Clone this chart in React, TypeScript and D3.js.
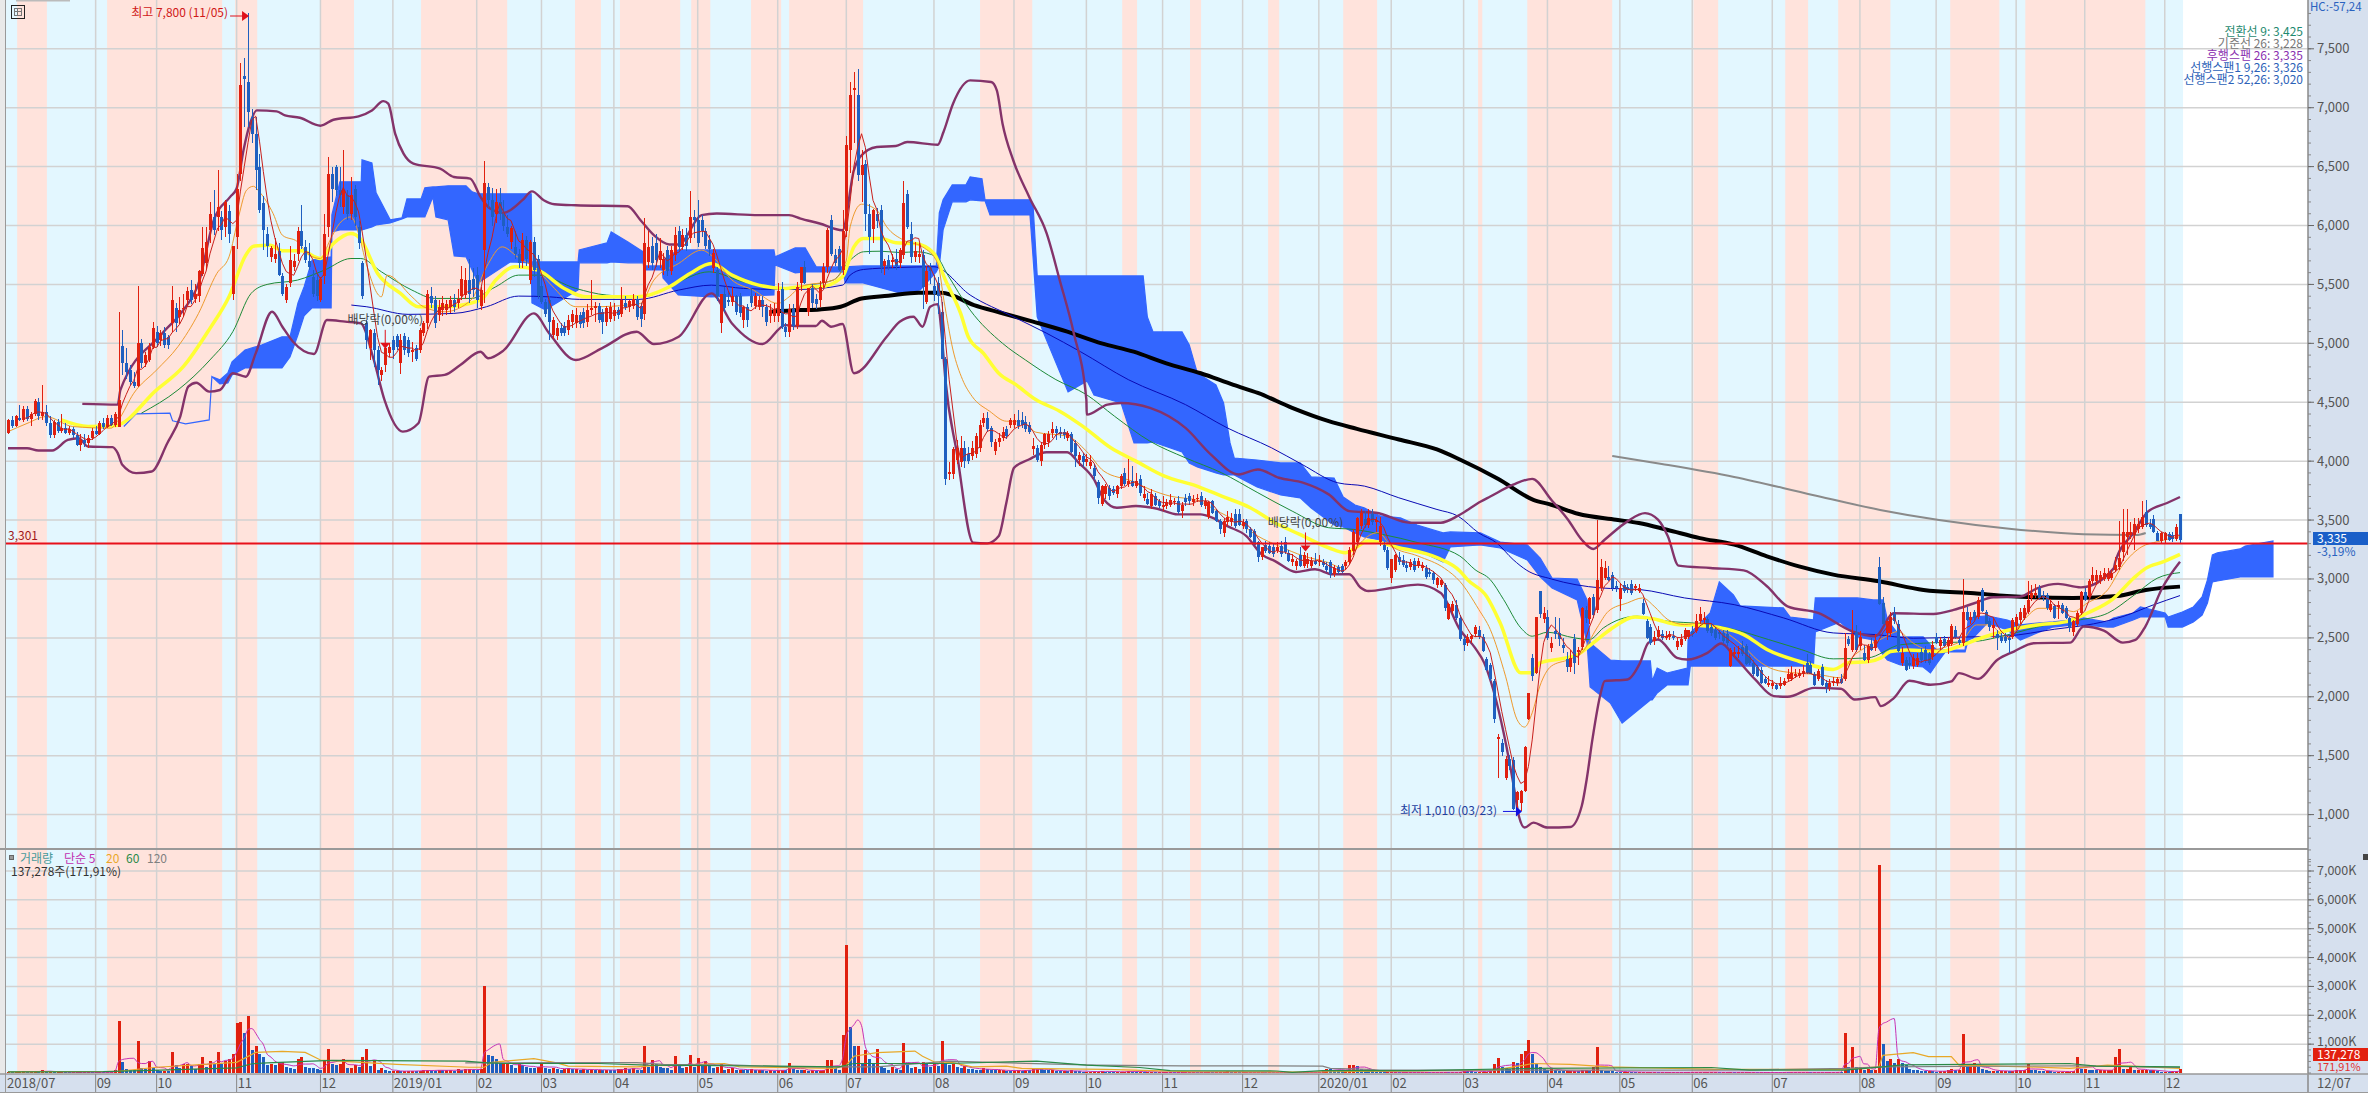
import React from "react";
import * as d3 from "d3";

const W = 2368, H = 1093;

// candle rows: [open, high, low, close, volume in K shares], one array per chart month
const m1807 = [[4240,4360,4230,4350,40],[4350,4380,4280,4300,30],[4300,4390,4290,4380,30],[4370,4480,4340,4350,50],[4350,4470,4330,4440,60],[4440,4470,4340,4360,40],[4360,4420,4300,4400,40],[4400,4530,4380,4510,70],[4500,4540,4350,4380,50],[4380,4650,4350,4420,90],[4420,4480,4300,4320,40],[4320,4380,4200,4220,60],[4220,4350,4200,4330,30],[4330,4360,4240,4260,30],[4260,4400,4240,4280,40],[4280,4320,4230,4240,30],[4240,4300,4220,4270,20],[4270,4290,4200,4220,20],[4220,4250,4130,4140,30],[4140,4230,4090,4180,30],[4180,4230,4120,4150,30],[4150,4220,4110,4200,30],[4200,4280,4180,4260,20]];
const m1809 = [[4260,4300,4220,4230,20],[4230,4340,4220,4320,30],[4320,4370,4270,4290,20],[4290,4390,4280,4370,30],[4370,4390,4300,4310,30],[4310,4420,4290,4400,90],[4290,5270,4290,4520,1800],[4980,5110,4730,4830,380],[4830,4960,4700,4760,150],[4770,4820,4650,4670,120],[4670,4760,4620,4640,100],[4640,5490,4630,5000,1110],[5000,5040,4790,4830,170],[4830,4930,4800,4900,130],[4860,5000,4840,4970,430],[4970,5180,4950,5130,180]];
const m1810 = [[5100,5150,4970,5000,120],[5030,5110,4980,5090,80],[5090,5140,4960,4990,80],[5050,5070,4950,4990,60],[5170,5490,5100,5370,715],[5300,5340,5100,5170,260],[5220,5390,5160,5280,180],[5290,5420,5220,5300,320],[5370,5480,5320,5440,320],[5450,5540,5330,5370,250],[5380,5500,5340,5420,150],[5400,5620,5350,5610,320],[5590,5990,5570,5810,545],[5680,5990,5620,5860,200],[5960,6200,5850,6100,430],[6070,6300,5920,5960,300],[6070,6470,5950,6160,715],[6070,6120,5880,5960,300],[5990,6220,5900,6200,430],[6120,6170,5850,5930,490],[5420,5830,5370,5830,660]];
const m1811 = [[5900,6440,5800,6310,1740],[6440,7380,6380,7190,1760],[7270,7420,6840,7240,1400],[7220,7800,6840,6960,1990],[6920,6990,6700,6780,810],[6780,6920,6300,6470,940],[6500,6610,6110,6130,660],[6190,6250,5790,5960,570],[5930,5990,5730,5830,290],[5730,5830,5690,5810,300],[5720,5890,5680,5760,260],[5780,5850,5570,5580,340],[5570,5600,5400,5420,380],[5370,5500,5340,5480,200],[5510,5830,5480,5710,180],[5650,5760,5610,5700,130],[5760,5990,5700,5950,470],[5950,6170,5800,5830,570],[5820,5880,5680,5710,200],[5700,5850,5620,5650,180],[5560,5620,5390,5420,170],[5540,5600,5360,5400,130]];
const m1812 = [[5370,5560,5350,5550,120],[5570,6100,5500,5930,430],[5990,6580,5900,6440,840],[6440,6500,6200,6310,300],[6500,6510,6250,6300,260],[6300,6500,6160,6260,320],[6160,6640,6100,6300,490],[6260,6300,6050,6100,180],[6100,6410,6050,6260,180],[6310,6340,6000,6070,260],[5990,6040,5800,5850,200],[5680,5700,5380,5400,545],[5170,5200,4950,5030,840],[4960,5120,4860,5110,250],[5090,5120,4800,4940,430],[4940,4980,4650,4770,100],[4730,4800,4680,4770,180],[4820,4960,4760,4960,90],[4920,5000,4880,4970,60]];
const m1901 = [[5030,5060,4870,4940,70],[5060,5080,4940,4970,70],[4830,5080,4740,5030,60],[5060,5090,4900,4940,60],[5030,5050,4880,4920,70],[4930,5010,4840,4940,80],[4960,4990,4850,4870,70],[4940,5130,4920,5110,80],[5090,5190,5060,5170,90],[5170,5450,5120,5420,100],[5400,5480,5300,5340,90],[5370,5400,5130,5170,80],[5240,5370,5190,5310,110],[5280,5400,5230,5340,90],[5280,5370,5240,5330,90],[5310,5400,5260,5370,100],[5370,5420,5270,5310,80],[5340,5460,5300,5380,130],[5400,5660,5370,5550,100],[5410,5640,5380,5540,130],[5540,5720,5340,5420,130],[5550,5640,5390,5450,120]];
const m1902 = [[5580,5650,5300,5370,110],[5320,5480,5280,5450,130],[5790,6550,5340,6360,3030],[6330,6360,6150,6220,610],[6220,6320,6000,6070,600],[6100,6310,6020,6200,480],[6200,6320,6050,6100,330],[6100,6220,5950,6000,330],[5990,6090,5900,5930,330],[5860,6000,5800,5980,260],[5820,5950,5720,5760,190],[5760,5800,5640,5680,320],[5700,5940,5640,5880,260],[5880,5910,5660,5720,200],[5540,5880,5500,5860,190],[5860,5900,5560,5620,170],[5720,5750,5380,5400,200]];
const m1903 = [[5490,5560,5330,5350,320],[5350,5380,5220,5250,190],[5370,5400,5030,5180,150],[5070,5220,5040,5200,180],[5060,5170,5030,5130,150],[5130,5170,5060,5090,120],[5150,5180,5060,5090,150],[5110,5240,5070,5200,170],[5180,5280,5130,5250,130],[5170,5300,5130,5240,130],[5240,5270,5130,5160,100],[5270,5300,5130,5170,140],[5180,5330,5140,5280,120],[5280,5540,5240,5300,120],[5300,5350,5180,5320,100],[5320,5340,5170,5200,110],[5270,5290,5080,5180,100],[5180,5320,5150,5300,110],[5210,5350,5180,5310,100]];
const m1904 = [[5230,5340,5190,5280,90],[5280,5310,5210,5240,130],[5250,5480,5220,5370,140],[5340,5400,5280,5310,180],[5310,5370,5270,5360,130],[5320,5420,5290,5380,170],[5380,5400,5200,5220,120],[5320,5340,5140,5210,90],[5250,6060,5200,5850,950],[5690,5950,5640,5820,220],[5830,5900,5620,5680,460],[5850,5930,5650,5710,300],[5710,5890,5640,5780,200],[5620,5770,5580,5720,170],[5790,5830,5570,5610,160],[5610,5830,5580,5790,120],[5750,5990,5700,5920,580],[5950,6000,5780,5820,230],[5820,5970,5790,5920,170],[5920,5980,5780,5830,200],[5890,6290,5850,6070,610],[6070,6130,5890,6050,200]];
const m1905 = [[6050,6220,5820,5850,510],[6050,6090,5900,5950,260],[5950,5980,5800,5830,400],[5880,5920,5740,5800,240],[5640,5800,5600,5770,180],[5620,5650,5360,5400,200],[5170,5420,5090,5420,300],[5420,5480,5270,5300,120],[5370,5440,5320,5350,140],[5350,5480,5320,5400,170],[5400,5410,5240,5270,110],[5400,5430,5220,5260,120],[5200,5320,5130,5310,100],[5310,5330,5140,5200,90],[5400,5470,5310,5340,130],[5320,5430,5290,5400,90],[5310,5400,5280,5370,110],[5370,5400,5220,5310,100],[5310,5330,5150,5180,80],[5230,5330,5170,5280,90],[5230,5340,5180,5290,80]];
const m1906 = [[5230,5510,5180,5440,90],[5460,5520,5120,5140,120],[5140,5170,5050,5100,90],[5100,5330,5050,5290,330],[5290,5330,5110,5150,130],[5150,5520,5120,5480,110],[5510,5650,5440,5650,90],[5650,5700,5500,5510,100],[5270,5470,5230,5470,80],[5470,5500,5300,5340,90],[5380,5420,5290,5330,70],[5370,5530,5310,5480,80],[5510,5680,5470,5650,90],[5650,5980,5600,5960,440],[6050,6090,5740,5760,440],[5750,5800,5660,5680,170],[5800,5830,5610,5620,120],[5620,6130,5580,5950,1300]];
const m1907 = [[5950,6760,5900,6680,4420],[6640,7220,6450,7105,1600],[7150,7300,6700,7170,920],[7105,7330,6380,6430,950],[6430,6640,6200,6510,300],[6520,6560,5950,6100,780],[6100,6180,5760,5900,500],[5970,6140,5850,6130,300],[6100,6150,5980,6040,820],[6130,6170,5600,5650,210],[5660,5720,5580,5700,160],[5710,5750,5620,5650,110],[5690,5760,5640,5710,200],[5720,5800,5620,5660,150],[5680,5810,5640,5790,120],[5750,6380,5720,6190,1045],[6270,6300,5970,5990,300],[5930,6030,5680,5730,160],[5730,5860,5690,5780,200],[5730,5850,5680,5760,150],[5750,5790,5290,5480,390],[5350,5660,5330,5610,300],[5650,5680,5500,5610,200]];
const m1908 = [[5490,5580,5360,5420,300],[5510,5560,5250,5400,250],[5270,5350,4870,4870,1125],[4870,4880,3800,3850,350],[3890,3990,3840,3910,280],[3890,4120,3850,4100,300],[4010,4180,3980,4110,200],[3990,4210,3950,4110,180],[4110,4170,3940,4000,250],[4060,4120,3980,4000,150],[4040,4170,4010,4110,130],[4060,4240,4030,4210,120],[4110,4350,4080,4310,100],[4320,4410,4290,4370,180],[4370,4420,4250,4270,130],[4280,4300,4120,4160,100],[4090,4190,4050,4160,90],[4160,4240,4120,4200,100],[4200,4290,4170,4250,100],[4270,4300,4190,4210,80],[4310,4370,4280,4350,70]];
const m1909 = [[4310,4400,4280,4350,80],[4350,4430,4270,4300,90],[4350,4420,4280,4310,80],[4330,4380,4250,4270,110],[4310,4330,4230,4250,100],[4100,4200,4050,4130,130],[4110,4140,3990,4010,180],[4000,4150,3960,4140,130],[4140,4240,4100,4230,100],[4160,4260,4120,4230,90],[4240,4330,4200,4270,90],[4270,4300,4180,4240,80],[4250,4290,4200,4230,70],[4250,4270,4190,4220,70],[4200,4260,4170,4240,60],[4230,4250,4070,4080,90],[4150,4180,3950,4040,70],[4010,4080,3960,4050,60],[4040,4070,3950,3990,50]];
const m1910 = [[3990,4060,3960,4020,50],[3960,4050,3930,3990,50],[3940,3980,3840,3870,50],[3820,3840,3640,3690,50],[3640,3800,3620,3790,80],[3720,3810,3680,3790,50],[3770,3800,3670,3700,40],[3760,3790,3710,3730,30],[3720,3800,3690,3790,40],[3790,3890,3760,3870,50],[3900,3940,3790,3810,50],[3810,4020,3780,3830,60],[3830,3960,3780,3790,50],[3790,3900,3770,3830,40],[3850,3880,3700,3730,50],[3690,3790,3660,3720,40],[3680,3730,3630,3640,40],[3620,3760,3590,3720,40],[3700,3730,3620,3630,30],[3660,3680,3600,3620,30]];
const m1911 = [[3610,3700,3580,3630,30],[3620,3680,3590,3650,30],[3630,3720,3610,3670,30],[3650,3690,3630,3660,25],[3660,3700,3550,3570,30],[3580,3650,3520,3630,30],[3690,3720,3620,3650,30],[3700,3730,3630,3660,30],[3650,3710,3620,3680,30],[3680,3720,3650,3690,25],[3700,3740,3610,3630,30],[3620,3690,3590,3660,30],[3530,3660,3510,3650,40],[3660,3670,3550,3560,30],[3580,3590,3480,3490,30],[3490,3510,3380,3420,30],[3390,3520,3360,3490,30],[3480,3580,3450,3530,60],[3480,3560,3450,3520,30],[3550,3590,3430,3450,30],[3550,3590,3450,3460,25]];
const m1912 = [[3450,3510,3420,3480,25],[3490,3510,3390,3420,25],[3420,3440,3350,3360,25],[3410,3420,3290,3290,25],[3310,3320,3140,3190,30],[3190,3270,3160,3270,30],[3290,3320,3220,3240,25],[3280,3310,3210,3220,25],[3270,3300,3190,3210,20],[3240,3310,3220,3270,20],[3280,3320,3190,3210,20],[3310,3360,3210,3230,20],[3220,3250,3140,3150,20],[3140,3210,3110,3170,20],[3110,3170,3080,3150,20],[3200,3270,3100,3110,20],[3110,3230,3090,3200,20],[3130,3220,3090,3170,20],[3110,3190,3090,3150,20],[3150,3220,3120,3130,20]];
const m2001 = [[3140,3200,3110,3150,40],[3140,3170,3100,3120,60],[3110,3140,3060,3080,150],[3140,3160,3010,3040,130],[3040,3120,3020,3090,120],[3100,3120,3040,3060,100],[3110,3130,3050,3060,80],[3110,3160,3080,3140,90],[3140,3270,3120,3250,270],[3240,3420,3200,3400,280],[3310,3530,3290,3520,250],[3450,3590,3420,3560,130],[3510,3580,3430,3460,100],[3460,3590,3430,3520,70],[3550,3590,3460,3480,60],[3480,3530,3400,3500,50],[3310,3530,3280,3450,40],[3290,3310,3230,3250,30],[3250,3270,3080,3090,30]];
const m2002 = [[3010,3170,2970,3170,30],[3080,3210,3060,3200,30],[3190,3230,3120,3140,25],[3160,3200,3100,3120,25],[3120,3150,3060,3090,25],[3100,3170,3080,3140,25],[3150,3180,3060,3080,25],[3110,3180,3090,3150,25],[3090,3140,3070,3120,25],[3090,3120,3000,3020,25],[3060,3090,3020,3040,20],[3050,3070,2960,2990,25],[2950,3020,2920,3010,25],[2950,3000,2930,2990,30],[2950,2970,2730,2750,30],[2660,2800,2650,2790,25],[2730,2810,2700,2790,25],[2780,2820,2650,2670,25],[2670,2690,2470,2490,40]];
const m2003 = [[2490,2510,2390,2440,100],[2460,2530,2430,2510,90],[2490,2530,2460,2520,60],[2530,2610,2510,2590,40],[2570,2600,2490,2510,40],[2510,2530,2380,2390,40],[2320,2340,2220,2230,50],[2270,2290,2130,2150,100],[2130,2150,1780,1810,300],[1640,1680,1310,1660,510],[1610,1640,1500,1530,200],[1310,1500,1290,1470,190],[1470,1510,1380,1410,150],[1460,1490,1040,1050,390],[1120,1200,1010,1190,340],[1100,1210,1030,1200,650],[1200,1580,1190,1570,750],[1810,2030,1800,2030,1160],[2330,2360,2130,2180,650],[2200,2680,2190,2680,300],[2900,2900,2670,2700,200],[2660,2760,2630,2710,150]];
const m2004 = [[2680,2740,2480,2500,120],[2410,2510,2380,2460,130],[2560,2680,2490,2530,100],[2540,2670,2430,2490,80],[2440,2500,2370,2410,60],[2320,2380,2210,2250,60],[2250,2400,2210,2330,60],[2490,2530,2190,2290,70],[2380,2420,2270,2400,60],[2420,2760,2400,2750,90],[2740,2770,2630,2670,100],[2660,2850,2620,2840,80],[2850,2870,2670,2690,200],[2740,3500,2710,2990,890],[2920,3170,2900,3100,110],[3010,3150,2990,3090,80],[3020,3110,2980,2990,70],[3030,3060,2900,2920,60],[2940,2980,2890,2920,50]];
const m2005 = [[2830,2960,2730,2920,40],[2950,2980,2880,2900,40],[2930,2960,2880,2910,40],[2960,2990,2860,2880,35],[2920,2960,2900,2940,30],[2900,2960,2880,2920,30],[2800,2830,2690,2700,30],[2640,2660,2490,2500,30],[2590,2620,2440,2460,30],[2470,2560,2440,2510,30],[2510,2600,2490,2570,25],[2530,2570,2480,2500,25],[2500,2560,2480,2520,25],[2510,2560,2480,2530,25],[2520,2560,2480,2500,25],[2420,2500,2400,2470,25],[2440,2530,2420,2490,25],[2490,2580,2470,2570,25],[2510,2570,2490,2570,30]];
const m2006 = [[2560,2600,2510,2530,30],[2560,2700,2540,2640,30],[2640,2760,2620,2700,30],[2650,2720,2630,2670,30],[2660,2680,2540,2560,30],[2590,2620,2520,2540,30],[2570,2590,2480,2500,30],[2550,2570,2490,2530,25],[2540,2570,2450,2470,25],[2530,2570,2430,2460,25],[2260,2410,2250,2400,40],[2360,2420,2330,2380,25],[2360,2430,2330,2380,25],[2420,2470,2350,2360,25],[2430,2450,2270,2280,25],[2340,2360,2270,2290,25],[2290,2310,2180,2190,25],[2250,2270,2170,2180,20],[2230,2250,2110,2120,20],[2150,2170,2110,2120,20],[2100,2180,2080,2120,20]];
const m2007 = [[2090,2140,2070,2120,20],[2100,2120,2060,2070,20],[2090,2170,2070,2120,20],[2100,2160,2090,2130,30],[2150,2240,2130,2190,25],[2150,2260,2130,2200,25],[2180,2240,2160,2190,25],[2180,2240,2160,2200,25],[2190,2270,2170,2220,25],[2290,2360,2190,2200,30],[2270,2300,2190,2190,25],[2190,2210,2090,2100,25],[2150,2240,2130,2220,25],[2250,2280,2090,2100,25],[2120,2140,2030,2080,25],[2080,2150,2050,2120,25],[2120,2170,2090,2130,25],[2120,2170,2090,2150,30],[2150,2190,2110,2120,25],[2150,2540,2130,2410,1400],[2490,2520,2430,2450,200],[2400,2740,2380,2530,890],[2550,2610,2380,2400,200]];
const m2008 = [[2430,2560,2400,2510,200],[2370,2440,2300,2310,100],[2310,2450,2290,2430,150],[2450,2500,2390,2400,100],[2410,2530,2390,2480,120],[3100,3190,2780,2790,7200],[2800,2850,2620,2620,990],[2540,2640,2480,2640,420],[2540,2720,2510,2680,500],[2700,2760,2620,2640,330],[2620,2650,2380,2390,500],[2290,2420,2260,2370,330],[2310,2340,2220,2230,280],[2290,2340,2240,2270,130],[2260,2360,2240,2330,100],[2270,2370,2250,2330,90],[2380,2410,2290,2310,80],[2400,2430,2290,2300,70],[2360,2380,2270,2290,70],[2340,2470,2310,2440,60]];
const m2009 = [[2510,2540,2450,2460,50],[2430,2510,2400,2480,60],[2490,2520,2420,2430,70],[2430,2510,2360,2480,100],[2450,2620,2430,2600,150],[2570,2600,2490,2510,100],[2480,2510,2440,2460,100],[2460,3000,2430,2720,1350],[2720,2760,2640,2650,200],[2650,2720,2620,2680,200],[2720,2740,2650,2670,350],[2680,2850,2660,2820,200],[2910,2920,2720,2730,150],[2720,2740,2620,2620,100],[2640,2670,2560,2590,80],[2580,2680,2500,2610,80],[2530,2570,2400,2500,70],[2510,2540,2460,2470,70],[2510,2540,2460,2470,70],[2500,2530,2370,2480,60],[2510,2670,2490,2650,70]];
const m2010 = [[2600,2700,2570,2680,100],[2650,2750,2620,2720,100],[2670,2780,2650,2750,100],[2720,2980,2700,2820,300],[2840,2950,2810,2880,100],[2860,2960,2840,2880,90],[2920,2950,2820,2840,80],[2860,2900,2810,2840,70],[2860,2880,2740,2750,70],[2740,2830,2720,2790,60],[2770,2790,2660,2670,50],[2760,2810,2660,2780,50],[2780,2800,2700,2710,50],[2750,2770,2660,2670,50],[2670,2680,2550,2580,50],[2550,2650,2520,2640,60],[2620,2730,2600,2710,545],[2710,2900,2690,2890,150]];
const m2011 = [[2890,2920,2810,2820,150],[2850,3000,2830,2980,120],[2980,3100,2960,3030,100],[2980,3080,2950,3030,90],[2990,3070,2960,3030,90],[3000,3090,2980,3050,100],[3000,3090,2980,3050,100],[3010,3080,2990,3050,100],[3080,3190,3060,3120,550],[3100,3490,3080,3180,830],[3230,3590,3150,3400,150],[3360,3590,3200,3400,150],[3370,3480,3340,3400,200],[3370,3520,3250,3470,100],[3420,3520,3390,3470,100],[3440,3660,3420,3530,100],[3570,3670,3440,3460,120],[3470,3510,3420,3440,90],[3510,3540,3390,3400,90],[3390,3410,3320,3320,60],[3320,3400,3300,3390,40]];
const m2012 = [[3330,3400,3300,3390,50],[3380,3400,3320,3330,40],[3375,3400,3310,3340,60],[3340,3470,3320,3440,60],[3550,3550,3300,3335,137]];

const monthRows = [m1807,m1809,m1810,m1811,m1812,m1901,m1902,m1903,m1904,m1905,m1906,m1907,m1908,m1909,m1910,m1911,m1912,m2001,m2002,m2003,m2004,m2005,m2006,m2007,m2008,m2009,m2010,m2011,m2012];
const monthLabels = ["2018/07","09","10","11","12","2019/01","02","03","04","05","06","07","08","09","10","11","12","2020/01","02","03","04","05","06","07","08","09","10","11","12"];
const monthStarts = [0,23,39,60,82,101,123,140,159,181,202,220,243,264,283,303,324,344,363,382,404,423,442,463,486,506,527,545,566];

// rising-phase bands, [first, last] in bar positions
const pinkBands = [[2.4,10.2],[26,56.2],[59.6,65.4],[81.9,90.8],[108.4,131],[148.8,155.6],[160.6,176.4],[179.3,184.3],[195,202.9],[205,224.4],[255.1,268.8],[292.4,296.3],[310.2,313.1],[330.7,333.6],[350.4,359.3],[385.8,386.9],[398.7,421],[442.3,448.8],[466.4,472.4],[480.3,494],[509.7,522.6],[529.4,560.9]];

// Ichimoku cloud: bar position, upper edge, lower edge
const cloudAt = [30.4,33.6,42.5,43.2,46.6,52.8,53.5,55.6,57.7,58.8,62.2,66.7,71.9,74,76.1,77.7,79.8,84.8,85,87.1,92.7,92.9,95.5,96.6,100.3,103.4,104.7,108.4,109.4,111.5,112.3,115.5,117.1,120.2,121.8,123.4,131.8,137.3,137.5,141,149.6,149.9,157.2,158.3,162.7,166.7,166.9,171.7,171.9,175.9,184.5,201,201.3,206.6,209.2,212.1,219.2,219.7,224.4,234.1,239.4,243.6,244.4,245.4,247.8,251.4,252.5,255.6,256.4,257.7,268.2,269,270.1,272.2,278.2,283.2,285,292.1,295.5,297.9,299,300.5,308.1,310,312.1,317,319,320.7,321.8,327.8,334,339.1,342,348,350.4,353.5,355.9,360.1,365.4,369.8,376.6,378.5,386.4,391.6,398.7,402.1,405.2,411.8,414.4,415.2,420.5,423.6,431,431.5,432.8,435.4,440.7,440.9,441.5,446.7,449.1,452.8,454.6,465.9,467.7,473.8,474.3,480.8,485.3,489.5,492.1,493.2,496.6,502.6,504.5,506.3,508.4,513.6,514.4,515.7,519.4,524.7,528.1,532.5,536.7,542,544.6,550.9,552.5,557.7,559.6,566.1,566.9,570.6,573.5,575.8,577.2,578.5,579.8,585.8,587.1,594.4];
const cloudHigh = [4294,4401,4407,4342,4316,4350,4717,4690,4749,4842,4944,4987,5055,5055,5343,5479,5708,5734,6090,6371,6371,6557,6532,6277,6048,6065,6226,6226,6320,6328,6328,6337,6337,6337,6286,6269,6269,6269,5691,5691,5691,5793,5853,5946,5861,5776,5657,5657,5708,5793,5793,5793,5734,5810,5810,5649,5649,5649,5657,5657,5657,5657,6107,6218,6345,6345,6413,6396,6218,6218,6218,6175,5572,5572,5572,5572,5572,5572,5572,5572,5224,5097,5097,4987,4749,4647,4494,4155,4027,4010,3985,3985,3866,3857,3696,3628,3603,3535,3518,3458,3391,3399,3391,3314,3289,3178,3008,3000,2822,2457,2312,2304,2304,2134,2244,2202,2244,2482,2542,2711,2975,2864,2771,2754,2677,2652,2839,2839,2839,2822,2822,2652,2508,2508,2440,2397,2397,2397,2652,2677,2686,2652,2610,2626,2635,2652,2669,2635,2669,2711,2762,2711,2677,2720,2762,2847,2992,3204,3221,3255,3280,3323];
const cloudLow = [4294,4401,4407,4342,4316,4350,4717,4655,4664,4732,4791,4791,4791,4885,5072,5233,5301,5301,5946,5963,5963,5963,5988,6005,6022,6056,6073,6073,6073,6243,6073,6048,5742,5734,5623,5513,5691,5683,5343,5284,5453,5683,5683,5691,5683,5683,5623,5623,5555,5411,5394,5411,5666,5598,5606,5606,5606,5513,5513,5428,5453,5606,5657,5963,6201,6201,6218,6209,6209,6090,6090,5734,5224,5055,4588,4681,4562,4494,4155,4155,4155,4163,4078,3985,3951,3900,3883,3883,3883,3781,3713,3688,3603,3458,3441,3391,3357,3331,3272,3246,3144,3272,3289,3263,3161,3017,2924,2822,2457,2083,1947,1777,1973,1973,2032,2100,2100,2100,2261,2261,2261,2261,2261,2261,2261,2261,2550,2635,2508,2482,2355,2312,2270,2253,2202,2287,2380,2380,2482,2499,2626,2567,2482,2542,2592,2610,2610,2592,2592,2652,2677,2677,2592,2592,2635,2694,2796,2975,2983,3017,3017,3017];

// moving-average key points: bar position, price
const ma20At = [0,5,10,17,27,29,33,39,44.6,50,54.8,58,60.5,62.6,64.4,66,69.6,72,76,79,82,84.5,87,90,92,94,98,99.5,106,109,114.6,121.5,125.6,129.7,133.7,139,143.4,149,154,162.6,166,169.5,176,182,185,190,195.6,202,205,208,216.6,220,221,224,228,230.6,235,240,244,245.6,248,250.5,253,257.6,262,266,269.7,278,283,287.6,295,299.7,305,312,316.6,323,328,333.5,340,346.6,350,352,355,359.6,363,370,377,381,386,389,393,396,398,400,402,405,409.6,413,417,420,425,429,432,435.6,440,444,449.4,455.5,459,463.4,468.7,475,481,483,488,492,496,500,504.4,509,513,516.6,520,524.6,529,533,538.6,542,545.6,551,555,560,564,570];
const ma20Val = [4250,4320,4378,4294,4280,4350,4576,4774,4972,5254,5593,5734,6073,6300,6333,6285,6100,5918,5862,5750,5720,5875,6017,6073,5932,5678,5395,5579,5395,5311,5268,5367,5650,5819,5734,5621,5466,5311,5311,5325,5339,5537,5678,5791,5734,5537,5452,5339,5395,5480,5537,5706,5989,6181,6130,5989,5876,5819,5678,5367,4943,4692,4550,4424,4339,4339,4246,4212,4085,3915,3830,3760,3703,3669,3590,3477,3364,3280,3195,3138,3096,3167,3308,3393,3280,3195,3090,2980,2740,2571,2175,1808,1743,1864,2090,2260,2316,2373,2585,2726,2797,2839,2768,2655,2613,2627,2571,2429,2316,2232,2203,2189,2161,2288,2429,2497,2554,2455,2398,2427,2483,2610,2610,2497,2653,2751,2751,2723,2794,2907,3119,3274,3316,3359];
const ma60At = [14,21,28,39,46,53,58,62.4,64.4,68.8,72,77,82,85.4,90,92.4,97,103,107.7,114.6,124,128,133,139,146,151.6,165,173.6,179,184.6,190,197,204,208,213,219,222,224.5,229,233,238,243,246,250,252,256,260,264.6,269.7,276,282,289.4,296,303.5,312,318.5,326,332.5,339,346.6,351,353,357,365,375,381,383,388,391.6,397,400,402,408,412,416,420.5,427,432,438,444,449.6,455.5,461.6,470,479,483,488,491.5,494,498.4,507,513,517.6,524.6,532.5,540.3,545.6,552.6,557.8,561,565.7,570];
const ma60Val = [4350,4294,4300,4605,4802,5127,5395,5749,5825,5833,5785,5785,5720,5847,5932,5890,5593,5424,5311,5311,5367,5537,5650,5621,5466,5395,5395,5480,5593,5678,5579,5494,5466,5480,5480,5565,5819,5890,5890,5853,5847,5763,5537,5254,5056,4915,4746,4647,4523,4424,4297,4113,4000,3873,3788,3703,3605,3477,3378,3265,3223,3251,3322,3265,3181,3068,2994,2853,2627,2203,2203,2288,2325,2359,2458,2571,2678,2661,2613,2605,2585,2528,2401,2302,2232,2288,2297,2330,2384,2398,2384,2441,2497,2562,2610,2638,2709,2836,3006,3090,3147,3209];
const ma120At = [35,44.6,53,59,63.8,68,76,83,90,92.6,98,106,112,121.5,128,134,139,149,157,166.7,175,184,193,202,209.6,216.6,221,224.5,229,234,238.5,243.7,246.4,252.5,261,267,275,283,290.4,299.7,309,318.5,328,337,346.6,353,360.7,370,381,385,389,392.5,397,400,404,411,415,418.7,427.5,435.6,444,453,462,470.6,479,488,496.6,502.7,516,524.6,535,543.8,551,558,564,570];
const ma120Val = [4407,4604,4859,5099,5424,5500,5537,5621,5720,5720,5607,5452,5381,5381,5480,5579,5579,5466,5410,5395,5508,5607,5522,5466,5494,5537,5706,5777,5782,5771,5777,5734,5593,5282,5000,4859,4692,4565,4381,4169,4028,3901,3732,3576,3435,3421,3378,3308,3195,3079,2994,2825,2585,2514,2548,2500,2486,2585,2684,2641,2621,2571,2486,2401,2322,2330,2441,2455,2469,2525,2610,2653,2709,2864,3006,3054];
const ma200At = [90.1,94,105,117,125.6,134,142,150,165.4,176,184.6,193,202,208,219,221,224.5,234,243,252.5,263.8,272.6,281.4,294,309,320,331.6,339.6,349,356,365,375,380.5,386,390.7,395,398.6,405,418,428.3,440,453,466,479,490,500,511.5,524.6,537,547.3,555,563,570];
const ma200Val = [5325,5311,5246,5254,5311,5401,5395,5373,5373,5452,5494,5466,5458,5458,5494,5579,5627,5644,5650,5410,5226,5085,4930,4692,4480,4282,4113,3972,3816,3788,3689,3590,3534,3390,3305,3164,3073,3000,2924,2910,2839,2782,2669,2542,2528,2497,2506,2517,2573,2619,2681,2780,2859];
const ma240At = [200,208,213,218.5,224,231,239,245,253.5,260.5,269,278,287,295.4,304,313,321.6,328,337,346.6,354,365,375,381,391,400.3,405,412,422,428,435.4,444,453,461.6,470,479,491,502.7,516,524.6,542,553.5,561,570];
const ma240Val = [5268,5282,5288,5311,5381,5404,5429,5429,5325,5260,5184,5099,5000,4929,4830,4746,4647,4579,4452,4339,4274,4184,4099,4014,3850,3672,3630,3554,3503,3475,3418,3347,3291,3192,3107,3037,2980,2907,2879,2856,2839,2856,2907,2935];
const ma480At = [421,434,453,473.6,491.3,524.6,544.7,558.6,561];
const ma480Val = [4044,3976,3866,3713,3586,3429,3379,3373,3390];

// Bollinger bands key points
const bbUpperAt = [19.5,28.8,29.5,40.5,46,50,54,58.3,60,61.8,63.5,65.3,70.5,72.7,76.6,82,85.4,92,95.5,98.5,99.8,101.6,103.8,106.4,113.4,117,121.3,124,126.5,130,135,137.5,140.6,143.4,149,162.6,166,169.5,173.6,176,182,186,197,205,208,213,219,222,223.6,228,233,236,244,245.5,248,252.5,258,259.5,261,263.8,268,272.6,276,279.7,283,283.1,288.5,292,299.7,309,315.7,323,328,333.5,340,346.6,352,359,368,376,381,386.5,389,395,400,405,409.4,413,416,419,425,429.6,433,435.6,438.4,446.8,455.5,461.6,467,475,484,490,494.9,505.3,510.6,516,521,528,532.5,538,544,552.6,553,558,561.5,566.6,570];
const bbUpperVal = [4486,4480,4605,5085,5282,5508,6045,6243,6314,6638,6864,6977,6969,6935,6915,6847,6898,6927,6977,7056,7034,6780,6610,6525,6483,6412,6398,6243,6144,6107,6215,6290,6215,6181,6172,6164,6045,5918,5839,5839,6088,6102,6088,6088,6059,6017,5960,6470,6582,6667,6675,6709,6686,6794,7034,7232,7218,7147,6864,6554,6243,5932,5537,5085,4520,4395,4480,4494,4452,4282,4056,3887,3929,3859,3816,3718,3576,3562,3477,3477,3545,3658,3700,3800,3850,3672,3503,3333,3254,3333,3489,3559,3503,3362,3113,3093,3073,2938,2768,2712,2556,2514,2709,2703,2737,2794,2845,2850,2921,2958,2929,3090,3144,3400,3570,3645,3696];
const bbLowerAt = [0,5,8,11.6,15.7,18.5,21,27.4,28.8,30,33.6,37.7,41.8,45.2,47.3,49.4,52.8,55.6,59,62.4,65,69.3,72,74.8,80.3,83.7,88.5,92.6,96,98.8,103.6,107.7,110.5,114.6,118.7,124,126,130,138,142,149,155.8,165,169.5,176,184.6,190,198,204,206.5,212,213.6,216,219,222,230.6,234,237.6,240,242,244,245,246,249,253.3,257,260,262,264,267.9,272.5,278,281,285,287.6,291,296,301.6,307,313,316,320,325,329,332.5,338,343,347.6,352,355,357,363.5,370,376,381,385,387.4,390,392.5,395,396.5,398,400.3,404,410,413,414.3,415.8,418,419,425,428.3,430.5,433,438,440.6,446,449.6,453,458.5,463.4,467,474,481,484.6,490,491.5,494.9,499,504.5,510,512,517,522.1,526.4,531.6,541.2,544.7,550,555,558.3,560.9,565.3,570];
const bbLowerVal = [4110,4110,4090,4090,4180,4195,4124,4119,4068,3969,3898,3912,4152,4378,4633,4666,4590,4604,4746,4717,4915,5268,5141,5014,4910,5198,5184,5169,4859,4520,4251,4322,4717,4732,4816,4929,4873,4938,5254,5085,4859,4958,5099,4994,5056,5424,5169,4994,5155,5147,5147,5192,5141,5164,4746,5056,5184,5226,5141,5311,5333,5085,4692,4071,3308,3302,3364,3647,3943,4014,4076,4076,3986,3845,3675,3605,3619,3596,3548,3548,3520,3449,3364,3209,3152,3059,3082,3040,3040,2926,2898,2926,2952,2881,2571,2415,2288,2034,1695,1271,988,890,932,890,895,1073,1300,1638,2034,2133,2147,2288,2458,2486,2330,2316,2373,2452,2345,2147,2006,2000,2076,2068,1977,1997,1921,1989,2136,2102,2130,2201,2152,2314,2384,2455,2460,2596,2562,2460,2483,2596,2921,3147];

// volume-pane averages (K shares)
const vol20At = [0,29,39,60,65,72,78,82,95,102,121,125,127,138,144,147,165,171,181,188,192,217,220,222,228,238,240,243,248,253,262,266,288,310,341,390,398,400,410,420,447.7,482,491,492,500,504,510,512,530,541,551,570];
const vol20Val = [40,60,200,370,715,750,715,450,350,300,200,200,370,500,350,240,215,270,300,330,215,160,270,580,705,760,580,390,360,215,240,160,125,45,35,100,270,330,300,215,125,125,215,610,705,570,570,270,215,160,270,160];
const vol60At = [0,25,40,60,64,68,78,85,120,125,130,155,168,202,218,222,246,270,283,297,305,333,337,345,370,400,447,457,482,492,497,541,548,570];
const vol60Val = [40,50,100,180,320,350,400,440,410,360,330,330,270,240,215,330,330,410,270,190,80,70,25,80,80,160,190,100,100,215,280,330,240,215];
const vol120At = [120,143,165,172,191,205,228,247,285,308,345,347,357,360,455,482,492,543,570];
const vol120Val = [350,360,360,300,270,215,215,410,270,250,240,160,125,100,100,160,215,250,190];

const priceTicks = [1000,1500,2000,2500,3000,3500,4000,4500,5000,5500,6000,6500,7000,7500];
const volumeTicks = [1000,2000,3000,4000,5000,6000,7000];
const ichimokuLegend = [
  { text: "전환선 9: 3,425", color: "#1f8a70" },
  { text: "기준선 26: 3,228", color: "#777777" },
  { text: "후행스팬 26: 3,335", color: "#8a2fb0" },
  { text: "선행스팬1 9,26: 3,326", color: "#2c62b8" },
  { text: "선행스팬2 52,26: 3,020", color: "#2c62b8" },
];
const refPrice = 3301;
const highMark = { at: 63, price: 7800, text: "최고 7,800 (11/05)" };
const lowMark = { at: 396, price: 1010, text: "최저 1,010 (03/23)" };
const dividendMarks = [{ at: 99, price: 4970 }, { at: 340.5, price: 3250 }];

const FONT = '"Noto Sans CJK KR","Noto Sans",sans-serif';
const AXIS_BG = "#d6e0ee";
const RED = "#e0200f";
const BLUE = "#1f5fc0";

const bars = monthRows.flatMap((rows, k) => rows.map((r, j) => ({ i: monthStarts[k] + j, o: r[0], h: r[1], l: r[2], c: r[3], v: r[4] })));

export default function App() {
  const x = d3.scaleLinear().domain([0, 570]).range([8, 2180]);
  const y = d3.scaleLinear().domain([1000, 7500]).range([814.6, 48.8]);
  const yv = d3.scaleLinear().domain([0, 7000]).range([1073, 871]);
  const plotL = 6, plotR = 2308, priceB = 849, volB = 1073;

  const priceLine = (at: number[], val: number[]) =>
    d3.line<number>().curve(d3.curveMonotoneX).x((_, k) => x(at[k])).y((d) => y(d))(val) || "";
  const volLine = (at: number[], val: number[]) =>
    d3.line<number>().x((_, k) => x(at[k])).y((d) => yv(d))(val) || "";
  const cloud = d3.area<number>().x((_, k) => x(cloudAt[k])).y0((_, k) => y(cloudLow[k])).y1((d) => y(d))(cloudHigh) || "";

  // 5-bar averages are the running means of the closes / volumes themselves
  const sma5 = (vals: number[]) => vals.slice(4).map((_, k) => d3.mean(vals.slice(k, k + 5)) as number);
  const closes = bars.map((b) => b.c);
  const vols = bars.map((b) => b.v);
  const ma5Path = d3.line<number>().x((_, k) => x(bars[k + 4].i)).y((d) => y(d))(sma5(closes)) || "";
  const volMa5Path = d3.line<number>().curve(d3.curveMonotoneX).x((_, k) => x(bars[k + 4].i)).y((d) => yv(d))(sma5(vols)) || "";

  const gridColor = "#d2d2d2";
  const minorPrice = d3.range(600, 7900, 100);
  const minorVol = d3.range(0, 7600, 200);

  return (
    <svg width={W} height={H} style={{ position: "absolute", left: 0, top: 0, display: "block", background: "#fff" }} fontFamily={FONT}>
      <rect x={0} y={0} width={plotL} height={H} fill="#e9e9e9" />
      <rect x={plotR} y={0} width={W - plotR} height={H} fill={AXIS_BG} />
      <rect x={0} y={1074} width={W} height={19} fill={AXIS_BG} />

      {/* bands */}
      <rect x={plotL} y={0} width={x(570.8) - plotL} height={volB} fill="#e3f7ff" />
      {pinkBands.map((b, k) => (
        <rect key={k} x={x(b[0])} y={0} width={x(b[1]) - x(b[0])} height={volB} fill="#ffe3dc" />
      ))}

      {/* grid */}
      {priceTicks.map((t) => (
        <line key={t} x1={plotL} x2={plotR} y1={y(t)} y2={y(t)} stroke={gridColor} strokeWidth={1.5} />
      ))}
      {volumeTicks.map((t) => (
        <line key={t} x1={plotL} x2={plotR} y1={yv(t)} y2={yv(t)} stroke={gridColor} strokeWidth={1.5} />
      ))}
      {monthStarts.slice(1).map((m) => (
        <line key={m} x1={x(m)} x2={x(m)} y1={0} y2={volB} stroke={gridColor} strokeWidth={1.5} />
      ))}

      {/* price pane */}
      <path d={cloud} fill="#3366ff" stroke="#3366ff" strokeWidth={1.2} />
      <path d={priceLine(ma480At, ma480Val)} fill="none" stroke="#8a8a8a" strokeWidth={2} />
      <path d={priceLine(ma240At, ma240Val)} fill="none" stroke="#000" strokeWidth={4} />
      <path d={priceLine(ma200At, ma200Val)} fill="none" stroke="#0a0ab4" strokeWidth={1} />
      <path d={priceLine(ma120At, ma120Val)} fill="none" stroke="#1d8a38" strokeWidth={1} />
      <path d={priceLine(ma60At, ma60Val)} fill="none" stroke="#ffff33" strokeWidth={3.5} />
      <path d={priceLine(ma20At, ma20Val)} fill="none" stroke="#ee9a2e" strokeWidth={1} />
      <path d={priceLine(bbLowerAt, bbLowerVal)} fill="none" stroke="#84336a" strokeWidth={2.4} />
      <path d={priceLine(bbUpperAt, bbUpperVal)} fill="none" stroke="#84336a" strokeWidth={2.4} />

      {bars.map((b) => {
        const cx = Math.round(x(b.i));
        const up = b.c >= b.o;
        const col = up ? RED : BLUE;
        const top = y(Math.max(b.o, b.c));
        const bot = y(Math.min(b.o, b.c));
        return (
          <g key={b.i} shapeRendering="crispEdges">
            <line x1={cx + 0.5} x2={cx + 0.5} y1={y(b.h)} y2={y(b.l)} stroke={col} strokeWidth={1} />
            <rect x={cx - 1} y={top} width={3} height={Math.max(1, bot - top)} fill={col} />
          </g>
        );
      })}
      <path d={ma5Path} fill="none" stroke="#c8201c" strokeWidth={1} />

      <line x1={plotL} x2={plotR} y1={y(refPrice)} y2={y(refPrice)} stroke="#e8101a" strokeWidth={2} />
      <text x={8} y={y(refPrice) - 4} fontSize={12} fill="#a01818">3,301</text>

      {/* high / low marks */}
      <text x={x(highMark.at) - 7} y={y(highMark.price) + 0} textAnchor="end" fontSize={12} fill="#d01818" dx={-13} dy={4}>{highMark.text}</text>
      <line x1={x(highMark.at) - 18} x2={x(highMark.at) - 4} y1={16} y2={16} stroke="#e0101a" strokeWidth={1} />
      <path d={`M${x(highMark.at) + 1},16 l-7,-5 v10 z`} fill="#e0101a" />
      <text x={x(lowMark.at) - 20} y={y(lowMark.price) + 2} textAnchor="end" fontSize={12} fill="#1f3f9f">{lowMark.text}</text>
      <line x1={x(lowMark.at) - 14} x2={x(lowMark.at) - 1} y1={y(lowMark.price) - 2} y2={y(lowMark.price) - 2} stroke="#1010e0" strokeWidth={1} />
      <path d={`M${x(lowMark.at) + 5},${y(lowMark.price) - 2} l-6,-5 v10 z`} fill="#1010e0" />

      {/* dividend marks */}
      {dividendMarks.map((d, k) => (
        <g key={k}>
          <text x={x(d.at)} y={y(d.price) - 23} textAnchor="middle" fontSize={12} fill="#444">배당락(0,00%)</text>
          <line x1={x(d.at)} x2={x(d.at)} y1={y(d.price) - 17} y2={y(d.price)} stroke="#e0101a" strokeWidth={1} />
          <path d={`M${x(d.at) - 5},${y(d.price) - 4} h10 l-5,6 z`} fill="#e0101a" />
        </g>
      ))}

      {/* legend */}
      {ichimokuLegend.map((l, k) => (
        <text key={k} x={2303} y={36 + k * 12} textAnchor="end" fontSize={12} fill={l.color}>{l.text}</text>
      ))}

      {/* grid icon */}
      <g fill="none" stroke="#222" strokeWidth={1} shapeRendering="crispEdges">
        <rect x={11.5} y={5.5} width={13} height={13} />
        <path d="M14.5,8.5h7v7h-7z M14.5,11.5h7 M17.5,8.5v7" stroke="#777" />
      </g>
      <rect x={16} y={0} width={54} height={1.5} fill="#bbb" />

      {/* volume pane */}
      <line x1={0} x2={plotR} y1={priceB} y2={priceB} stroke="#999" strokeWidth={2} />
      {bars.map((b, k) => {
        const cx = Math.round(x(b.i));
        const col = k === 0 || b.v >= bars[k - 1].v ? RED : BLUE;
        return <rect key={b.i} x={cx - 1} y={yv(b.v)} width={3} height={volB - yv(b.v)} fill={col} shapeRendering="crispEdges" />;
      })}
      <path d={volMa5Path} fill="none" stroke="#c832b4" strokeWidth={1} />
      <path d={volLine(vol20At, vol20Val)} fill="none" stroke="#e8a828" strokeWidth={1.2} />
      <path d={volLine(vol120At, vol120Val)} fill="none" stroke="#808080" strokeWidth={1.2} />
      <path d={volLine(vol60At, vol60Val)} fill="none" stroke="#2a8a48" strokeWidth={1.2} />

      <rect x={9.5} y={855.5} width={4} height={4} fill="#999" stroke="#666" />
      <text x={20} y={863} fontSize={12} fill="#4a9a9a">거래량</text>
      <text x={64} y={863} fontSize={12} fill="#c030b0">단순 5</text>
      <text x={106} y={863} fontSize={12} fill="#e8a828">20</text>
      <text x={126} y={863} fontSize={12} fill="#2a8a48">60</text>
      <text x={147} y={863} fontSize={12} fill="#808080">120</text>
      <text x={11} y={876} fontSize={12} fill="#333">137,278주(171,91%)</text>

      {/* axes frame */}
      <line x1={5.5} x2={5.5} y1={0} y2={1092} stroke="#999" strokeWidth={1} />
      <line x1={plotR} x2={plotR} y1={0} y2={1092} stroke="#8a8a8a" strokeWidth={1.5} />
      <line x1={0} x2={W} y1={1074} y2={1074} stroke="#999" strokeWidth={1.5} />
      <line x1={0} x2={W} y1={1092.5} y2={1092.5} stroke="#999" strokeWidth={1} />

      {/* right axis */}
      {minorPrice.map((t) => (
        <line key={t} x1={plotR} x2={plotR + 3} y1={y(t)} y2={y(t)} stroke="#888" />
      ))}
      {priceTicks.map((t) => (
        <g key={t}>
          <line x1={plotR} x2={plotR + 6} y1={y(t)} y2={y(t)} stroke="#666" />
          <text x={plotR + 9} y={y(t) + 4.5} fontSize={13} fill="#555">{d3.format(",")(t)}</text>
        </g>
      ))}
      {minorVol.map((t) => (
        <line key={t} x1={plotR} x2={plotR + 3} y1={yv(t)} y2={yv(t)} stroke="#888" />
      ))}
      {volumeTicks.map((t) => (
        <g key={t}>
          <line x1={plotR} x2={plotR + 6} y1={yv(t)} y2={yv(t)} stroke="#666" />
          <text x={plotR + 9} y={yv(t) + (t === 1000 ? 2 : 4)} fontSize={12.5} fill="#555">{d3.format(",")(t)}K</text>
        </g>
      ))}

      <text x={2310} y={11} fontSize={11.5} fill="#2a62c0">HC:-57,24</text>
      <rect x={2313} y={532} width={55} height={13} fill="#1a5fc8" />
      <text x={2317} y={543} fontSize={12} fill="#fff">3,335</text>
      <text x={2317} y={556} fontSize={12} fill="#2a62c0">-3,19%</text>
      <rect x={2313} y={1048} width={55} height={13} fill="#e2200f" />
      <text x={2317} y={1059} fontSize={12} fill="#fff">137,278</text>
      <text x={2317} y={1071} fontSize={11} fill="#e23030">171,91%</text>
      <rect x={2363} y={854} width={5} height={6} fill="#444" />

      {/* month axis */}
      {monthStarts.map((m, k) => (
        <g key={k}>
          {k > 0 && <line x1={x(m)} x2={x(m)} y1={1074} y2={1092} stroke="#888" />}
          <text x={k === 0 ? 7 : x(m) + 1} y={1088} fontSize={13} fill="#555">{monthLabels[k]}</text>
        </g>
      ))}
      <text x={2317} y={1088} fontSize={13} fill="#555">12/07</text>
    </svg>
  );
}
